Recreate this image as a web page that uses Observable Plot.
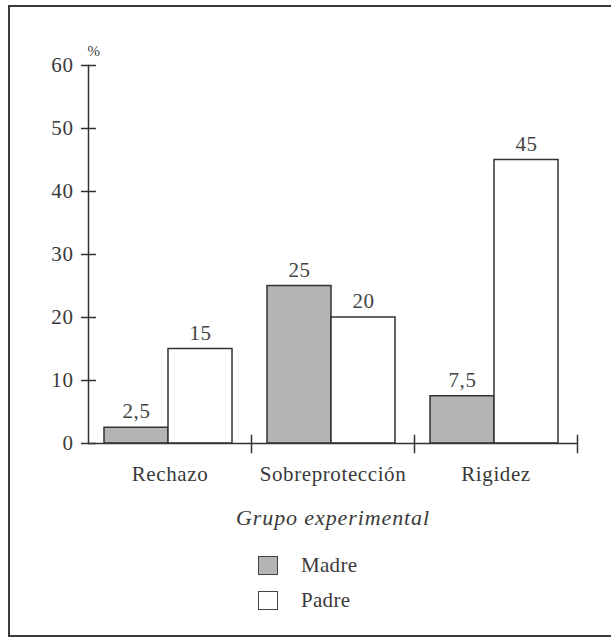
<!DOCTYPE html>
<html lang="es">
<head>
<meta charset="utf-8">
<script src="https://cdn.jsdelivr.net/npm/d3@7"></script>
<script src="https://cdn.jsdelivr.net/npm/@observablehq/plot@0.6"></script>
<style>
  html, body { margin: 0; padding: 0; background: #fff; overflow: hidden; }
  #page { position: relative; width: 611px; height: 640px; font-family: "Liberation Serif", serif; color: #3a3a3a; }
  #border { position: absolute; left: 8px; top: 5px; width: 620px; height: 632px; border: 2px solid #3a3a3a; box-sizing: border-box; pointer-events: none; }
  #chart { position: absolute; left: 0; top: 0; }
  #xtitle { position: absolute; left: 333px; top: 507px; transform: translateX(-50%); font-style: italic; font-size: 22px; line-height: 22px; letter-spacing: 0.9px; white-space: nowrap; }
  .key { position: absolute; left: 258px; height: 21px; }
  .key .sw { position: absolute; left: 0; top: 1px; width: 20px; height: 19px; box-sizing: border-box; border: 1.5px solid #444; }
  .key .lb { position: absolute; left: 43px; top: 0; font-size: 21px; line-height: 21px; letter-spacing: 0.3px; white-space: nowrap; }
</style>
</head>
<body>
<div id="page">
  <div id="chart"></div>
  <div id="xtitle">Grupo experimental</div>
  <div id="legend"></div>
  <div id="border"></div>
</div>
<script>
// Categories and series
const groups = ["Rechazo", "Sobreprotección", "Rigidez"];
const series = ["Madre", "Padre"];

// Percentages per group
const madre = [2.5, 25, 7.5];
const padre = [15, 20, 45];

// Axis ticks
const yTicks = [0, 10, 20, 30, 40, 50, 60];
const yLabel = "%";

// Series fills
const seriesFill = ["#b4b4b4", "#ffffff"];

const rows = groups.flatMap((g, i) => [
  {group: g, series: series[0], value: madre[i]},
  {group: g, series: series[1], value: padre[i]}
]);

const fmt = v => String(v).replace(".", ",");

const W = 611, H = 490;
const mT = 65, mB = 47, mL = 87, mR = 33;
const innerH = H - mT - mB;
const ink = "#3a3a3a";

const chart = Plot.plot({
  width: W,
  height: H,
  marginTop: mT,
  marginBottom: mB,
  marginLeft: mL,
  marginRight: mR,
  style: {fontFamily: '"Liberation Serif", serif', fontSize: "21px", letterSpacing: "0.6px", color: ink, background: "transparent"},
  fx: {domain: groups, padding: 0, label: null},
  x: {domain: series, paddingInner: 0, paddingOuter: 0.27, align: 0.47, axis: null},
  y: {domain: [0, 60], label: null},
  color: {domain: series, range: seriesFill},
  marks: [
    // bars
    Plot.barY(rows, {fx: "group", x: "series", y: "value", fill: "series", stroke: "#333", strokeWidth: 1.5}),
    // value labels above bars
    Plot.text(rows, {fx: "group", x: "series", y: "value", text: d => fmt(d.value), dy: -16, fontSize: 21, fill: "#444"}),
    // baseline
    Plot.ruleY([0], {stroke: "#333", strokeWidth: 1.5}),
    // vertical axis line (leftmost panel only)
    Plot.frame({anchor: "left", facetAnchor: "left", stroke: "#333", strokeWidth: 1.5}),
    // group separators crossing the baseline
    Plot.frame({anchor: "right", insetTop: innerH - 8, insetBottom: -9, stroke: "#333", strokeWidth: 1.5}),
    // y tick labels
    Plot.axisY({ticks: yTicks, tickSize: 0, tickPadding: 15, tickFormat: d => String(d), label: null, fontSize: 21}),
    // y tick marks crossing the axis
    Plot.axisY({ticks: yTicks, tickSize: 15, dx: 8, tickFormat: () => "", label: null, stroke: "#333", strokeWidth: 1.5}),
    // unit label on top of the axis
    Plot.text([yLabel], {frameAnchor: "top-left", facetAnchor: "left", text: d => d, textAnchor: "start", dx: -1, dy: -20, fontSize: 15}),
    // group names
    Plot.axisFx({anchor: "bottom", tickSize: 0, tickPadding: 23, label: null, fontSize: 21})
  ]
});
document.getElementById("chart").appendChild(chart);

// vertical legend
const legend = document.getElementById("legend");
const legendTops = [555, 590];
series.forEach((s, i) => {
  const item = document.createElement("div");
  item.className = "key";
  item.style.top = legendTops[i] + "px";
  const sw = document.createElement("div");
  sw.className = "sw";
  sw.style.background = seriesFill[i];
  const lb = document.createElement("div");
  lb.className = "lb";
  lb.textContent = s;
  item.appendChild(sw);
  item.appendChild(lb);
  legend.appendChild(item);
});
</script>
</body>
</html>
